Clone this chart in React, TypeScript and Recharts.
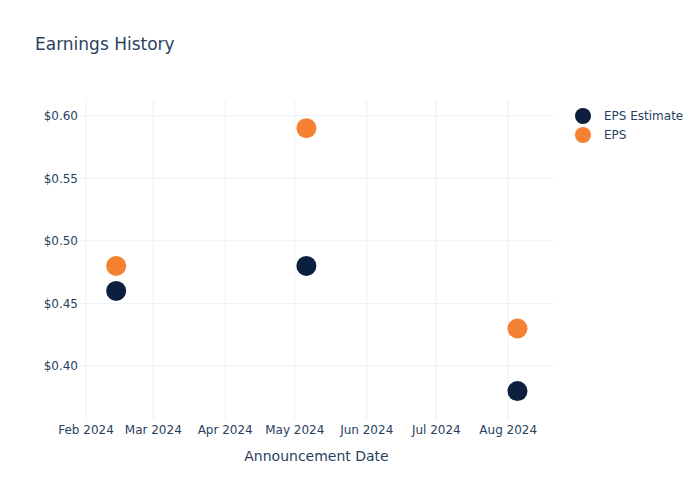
import React from 'react';
import { ScatterChart, Scatter, XAxis, YAxis, CartesianGrid } from 'recharts';

const dates = ['2024-02-14', '2024-05-06', '2024-08-05'];
const epsEstimate = [0.46, 0.48, 0.38];
const eps = [0.48, 0.59, 0.43];
const monthTicks = ['2024-02-01', '2024-03-01', '2024-04-01', '2024-05-01', '2024-06-01', '2024-07-01', '2024-08-01'];
const yTicks = [0.4, 0.45, 0.5, 0.55, 0.6];
const seriesNames = ['EPS Estimate', 'EPS'];

const NAVY = '#0d1f3f';
const ORANGE = '#f58232';
const TEXT = '#2a3f5f';
const GRID = '#ebf0f8';
const FONT = '"DejaVu Sans", Verdana, sans-serif';
const DAY = 86400000;

const ts = (d: string) => Date.parse(d + 'T00:00:00Z');
const estData = dates.map((d, i) => ({ x: ts(d), y: epsEstimate[i] }));
const epsData = dates.map((d, i) => ({ x: ts(d), y: eps[i] }));
const xTicks = monthTicks.map(ts);
const xDomain = [ts('2024-02-01') - 2.59 * DAY, ts('2024-02-01') + 201.3 * DAY];
const MONTHS = ['Jan', 'Feb', 'Mar', 'Apr', 'May', 'Jun', 'Jul', 'Aug', 'Sep', 'Oct', 'Nov', 'Dec'];
const fmtDate = (v: number) => {
  const d = new Date(v);
  return `${MONTHS[d.getUTCMonth()]} ${d.getUTCFullYear()}`;
};

const dot = (color: string) => (props: any) => (
  <circle cx={props.cx} cy={props.cy} r={10} fill={color} />
);

export default function App() {
  return (
    <div style={{ position: 'absolute', left: 0, top: 0, width: 700, height: 500, background: '#fff', fontFamily: FONT }}>
      <div style={{ position: 'absolute', left: 35, top: 34, fontSize: 17, color: TEXT }}>Earnings History</div>
      <div style={{ position: 'absolute', left: 575, top: 106, fontSize: 12, color: TEXT }}>
        {seriesNames.map((n, i) => (
          <div key={n} style={{ display: 'flex', alignItems: 'center', height: 19 }}>
            <svg width={16} height={16} style={{ marginRight: 13 }}>
              <circle cx={8} cy={8} r={8} fill={i === 0 ? NAVY : ORANGE} />
            </svg>
            <span>{n}</span>
          </div>
        ))}
      </div>
      <ScatterChart width={700} height={500} margin={{ top: 100, right: 147, bottom: 0, left: 0 }}>
        <CartesianGrid stroke={GRID} strokeWidth={1} horizontalValues={yTicks} verticalValues={xTicks} />
        <XAxis
          type="number"
          dataKey="x"
          domain={xDomain}
          allowDataOverflow
          ticks={xTicks}
          interval={0}
          tickFormatter={fmtDate}
          height={80}
          axisLine={false}
          tickLine={false}
          tickSize={0}
          tickMargin={5}
          tick={{ fill: TEXT, fontSize: 12, fontFamily: FONT }}
          label={{ value: 'Announcement Date', position: 'insideTop', offset: 31, fill: TEXT, fontSize: 14, fontFamily: FONT }}
        />
        <YAxis
          type="number"
          dataKey="y"
          domain={[0.3569, 0.6125]}
          allowDataOverflow
          ticks={yTicks}
          interval={0}
          tickFormatter={(v: number) => `$${v.toFixed(2)}`}
          width={80}
          axisLine={false}
          tickLine={false}
          tickSize={0}
          tickMargin={2}
          tick={{ fill: TEXT, fontSize: 12, fontFamily: FONT }}
        />
        <Scatter name="EPS Estimate" data={estData} fill={NAVY} shape={dot(NAVY)} isAnimationActive={false} />
        <Scatter name="EPS" data={epsData} fill={ORANGE} shape={dot(ORANGE)} isAnimationActive={false} />
      </ScatterChart>
    </div>
  );
}
